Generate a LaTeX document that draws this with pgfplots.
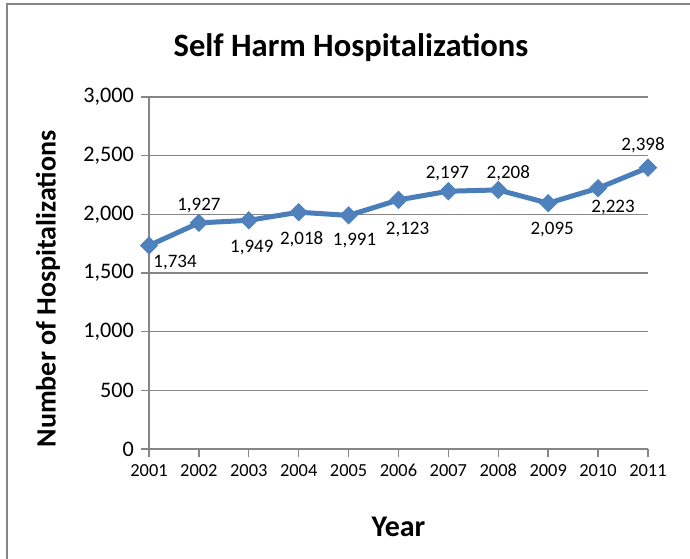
\documentclass[border=0pt]{standalone}
\usepackage{fontspec}
\setmainfont{Carlito}
\usepackage{pgfplots}
\pgfplotsset{compat=1.18}
\usepackage{pgfplotstable}

\definecolor{lineblue}{HTML}{4A7EBB}
\definecolor{markblue}{HTML}{4F81BD}
\definecolor{gridgray}{HTML}{868686}

% year, value, label offset (pt)
\pgfplotstableread{
year hosp dx dy
2001 1734 13 -8.5
2002 1927 0 8.5
2003 1949 1.5 -13.5
2004 2018 1.5 -13.5
2005 1991 3 -12.5
2006 2123 4.5 -15
2007 2197 -0.5 9
2008 2208 5 8.5
2009 2095 2 -13
2010 2223 7.5 -9.5
2011 2398 -2.5 11
}\hosp

\begin{document}
\begin{tikzpicture}
  \useasboundingbox (0,0) rectangle (345pt,279pt);
  \draw[gridgray, line width=0.7pt] (3.5pt,-5pt) rectangle (350pt,277pt);
  \begin{axis}[
    at={(74.5pt,54.5pt)}, anchor=south west,
    scale only axis,
    width=249.5pt, height=176pt,
    xmin=2001, xmax=2011,
    ymin=0, ymax=3000,
    xtick={2001,...,2011},
    ytick={0,500,...,3000},
    scaled y ticks=false,
    axis lines*=left,
    axis line style={gridgray, line width=0.7pt},
    tick style={gridgray, line width=0.7pt},
    tick align=outside,
    major tick length=4pt,
    ymajorgrids,
    grid style={gridgray, line width=0.7pt},
    /pgf/number format/1000 sep={,},
    /pgf/number format/assume math mode=true,
    xticklabel style={font=\fontsize{9.2}{11}\selectfont, /pgf/number format/1000 sep={}},
    yticklabel style={font=\fontsize{11.1}{13}\selectfont},
    title={\textbf{Self Harm Hospitalizations}},
    title style={font=\fontsize{16.3}{19}\selectfont, at={(axis description cs:0.5,1)}, anchor=center, yshift=18.5pt, xshift=-23.75pt},
    xlabel={\textbf{Year}},
    xlabel style={font=\fontsize{15}{17}\selectfont, at={(axis description cs:0.5,0)}, anchor=center, yshift=-39pt},
    ylabel={\textbf{Number of Hospitalizations}},
    ylabel style={font=\fontsize{14}{16}\selectfont, at={(axis description cs:0,0.5)}, anchor=center, yshift=50.5pt, xshift=-8pt},
    clip=false,
  ]
    \addplot[
      color=lineblue, line width=2.5pt,
      mark=square*, mark size=3pt,
      mark options={rotate=45, fill=markblue, draw=markblue, line width=0.5pt},
      point meta=explicit,
      nodes near coords,
      visualization depends on={\thisrow{dx} \as \dx},
      visualization depends on={\thisrow{dy} \as \dy},
      every node near coord/.append style={anchor=center, xshift=\dx pt, yshift=\dy pt,
        text=black, font=\fontsize{9.5}{11}\selectfont, inner sep=0pt},
    ] table[x=year, y=hosp, meta=hosp] {\hosp};
  \end{axis}
\end{tikzpicture}
\end{document}
